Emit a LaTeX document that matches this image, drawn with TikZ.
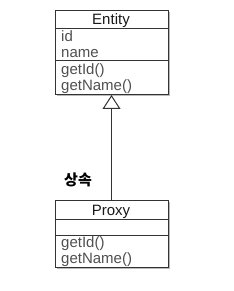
\documentclass[tikz,border=0pt]{standalone}
\usepackage{fontspec}
\setmainfont{Liberation Sans}
\newfontfamily\krfont{Noto Sans CJK KR}
\usetikzlibrary{arrows.meta,shadows}
\definecolor{boxline}{HTML}{333333}
\definecolor{membertext}{HTML}{505050}
\begin{document}
\begin{tikzpicture}[x=1pt,y=-1pt,
  classbox/.style={draw=boxline,line width=1pt,fill=white,
    drop shadow={shadow xshift=1.6pt,shadow yshift=-1.6pt,opacity=0.45,fill=black!60},
    minimum width=113pt,inner sep=0pt,anchor=north west},
  rowline/.style={draw=boxline,line width=1pt},
  titletext/.style={font=\fontsize{15}{16}\selectfont,text=black!90,anchor=base,inner sep=0pt},
  membertext/.style={font=\fontsize{15}{16}\selectfont,text=membertext,anchor=base west,inner sep=0pt},
  inherit/.style={draw=boxline,line width=1pt,-{Triangle[open,length=14pt,width=18pt,line width=1pt]}}]
\useasboundingbox (0,0) rectangle (233,291);
% Entity
\node[classbox,minimum height=84pt] (entity) at (54.5,10) {};
\draw[rowline] (54.5,28.5) -- (167.5,28.5);
\draw[rowline] (54.5,61) -- (167.5,61);
\node[titletext] (entityname) at (111,25) {Entity};
\node[membertext] (eid) at (61,41.5) {id};
\node[membertext] (ename) at (61,57.5) {name};
\node[membertext] (egetid) at (61,74.2) {getId()};
\node[membertext] (egetname) at (61,90.4) {getName()};
% Proxy
\node[classbox,minimum height=66.5pt] (proxy) at (54.5,200) {};
\draw[rowline] (54.5,219) -- (167.5,219);
\draw[rowline] (54.5,235) -- (167.5,235);
\node[titletext] (proxyname) at (111,215) {Proxy};
\node[membertext] (pgetid) at (61,247) {getId()};
\node[membertext] (pgetname) at (61,263.2) {getName()};
% inheritance
\draw[inherit] (proxy.north -| 111.5,0) -- (entity.south -| 111.5,0);
\node[font=\krfont\bfseries\fontsize{15}{16}\selectfont,inner sep=0pt] (label) at (78,180) {상속};
\end{tikzpicture}
\end{document}
